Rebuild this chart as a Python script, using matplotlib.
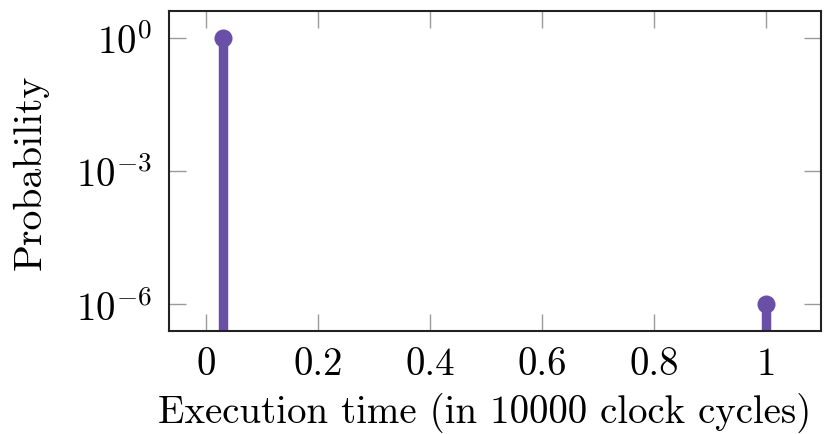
import matplotlib
matplotlib.use("Agg")
import matplotlib.pyplot as plt

# Data: execution time (in 10000 clock cycles) vs probability
exec_time = [0.03, 1.0]
probability = [1.0, 1e-6]

x_ticks = [0, 0.2, 0.4, 0.6, 0.8, 1]
x_tick_labels = ["0", "0.2", "0.4", "0.6", "0.8", "1"]
y_ticks = [1e0, 1e-3, 1e-6]

PURPLE = "#6a4fa6"

plt.rcParams["font.family"] = "cmr10"
plt.rcParams["mathtext.fontset"] = "cm"
plt.rcParams["axes.unicode_minus"] = False
plt.rcParams["axes.formatter.use_mathtext"] = True

fig = plt.figure(figsize=(8.28, 4.35), dpi=100)
ax = fig.add_axes([0.204, 0.237, 0.787, 0.735])

# stems from below the plot area up to each point
ax.vlines(exec_time, 1e-12, probability, color=PURPLE, linewidth=6.8)
ax.plot(exec_time, probability, "o", color=PURPLE, markersize=13, markeredgewidth=0)

ax.set_yscale("log")
ax.set_xlim(-0.067, 1.097)
ax.set_ylim(10 ** -6.6, 10 ** 0.6)

ax.set_xticks(x_ticks)
ax.set_xticklabels(x_tick_labels)
ax.set_yticks(y_ticks)
ax.yaxis.set_minor_locator(matplotlib.ticker.NullLocator())

ax.tick_params(axis="both", which="major", direction="in", length=12, width=1,
               color="#9a9a9a", labelsize=28, top=True, right=True)
ax.tick_params(axis="x", pad=11)
ax.tick_params(axis="y", pad=12)

for s in ax.spines.values():
    s.set_linewidth(1.5)
    s.set_color("#222222")

ax.set_xlabel("Execution time (in 10000 clock cycles)", fontsize=28)
ax.set_ylabel("Probability", fontsize=28.5)
ax.xaxis.set_label_coords(0.484, -0.19)
ax.yaxis.set_label_coords(-0.185, 0.5)

fig.savefig("out.png", dpi=100)
